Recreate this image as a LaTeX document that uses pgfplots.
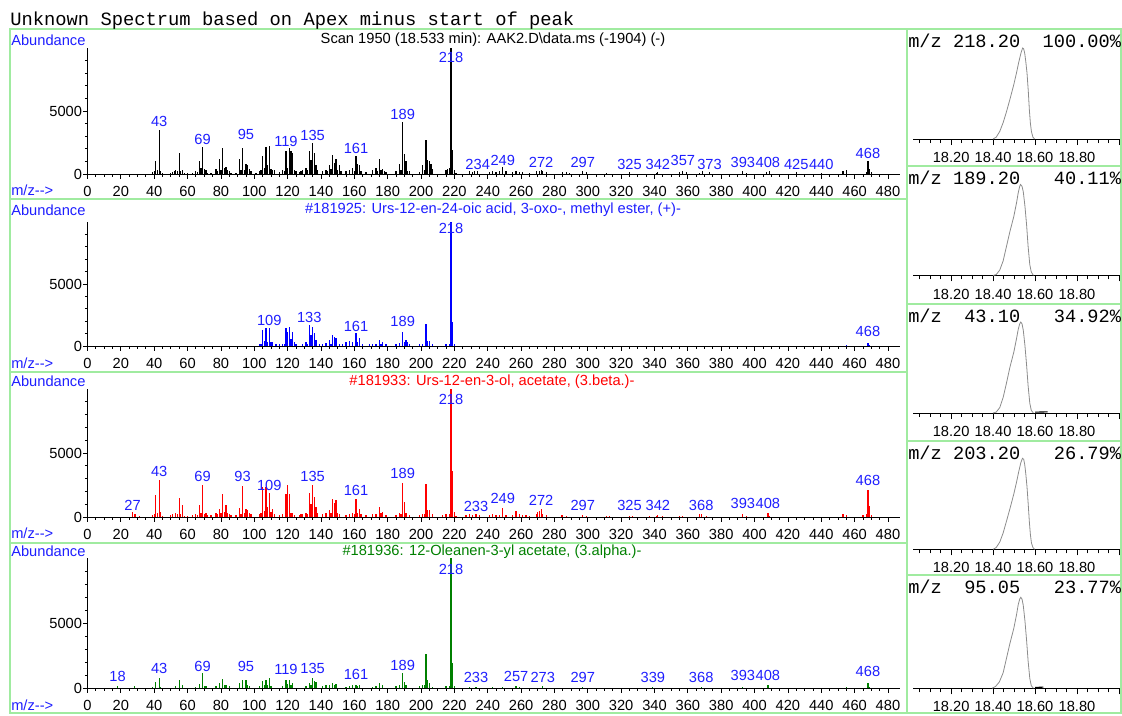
\documentclass[border=0pt]{standalone}
\usepackage{pgfplots}
\pgfplotsset{compat=1.18}
\usepackage{fontspec}
\setmainfont{Liberation Sans}
\newfontfamily\monofont{Liberation Mono}
\definecolor{lblue}{RGB}{30,30,255}
\definecolor{sred}{RGB}{255,0,0}
\definecolor{sgreen}{RGB}{0,128,0}
\definecolor{bgreen}{RGB}{160,235,160}
\definecolor{cgrey}{RGB}{140,140,140}
\pgfplotsset{
  spec/.style={scale only axis, width=609.1pt, xmin=0, xmax=487, ymin=0, ymax=10000,
    axis x line=bottom, axis y line=left, axis line style={-, line width=0.6pt},
    xtick={0,20,...,480}, minor x tick num=3,
    ytick={0,5000}, yticklabels={0,5000}, scaled y ticks=false,
    minor ytick={1000,2000,3000,4000,6000,7000,8000,9000},
    tick align=outside, major tick length=3.4pt, minor tick length=2pt,
    tick style={line width=0.6pt, black},
    /pgf/number format/assume math mode=true,
    tick label style={font=\fontsize{11}{13}\selectfont},
    xticklabel style={yshift=-2.5pt},
    yticklabel style={inner sep=0.5pt},
    clip=false},
  chrom/.style={scale only axis, width=155pt, height=68.25pt, xmin=18.02, xmax=19.005, ymin=0, ymax=1,
    axis x line=bottom, axis y line=none, axis line style={-, line width=0.6pt},
    xtick={18.2,18.4,18.6,18.8,19.0}, xticklabels={18.20,18.40,18.60,18.80,{}},
    minor xtick={18.05,18.1,18.15,18.25,18.3,18.35,18.45,18.5,18.55,18.65,18.7,18.75,18.85,18.9,18.95},
    tick align=outside, major tick length=4.5pt, minor tick length=3pt,
    tick style={line width=0.6pt, black},
    /pgf/number format/assume math mode=true,
    tick label style={font=\fontsize{11}{13}\selectfont},
    xticklabel style={yshift=-2pt},
    clip=false},
  lbl/.style={only marks, mark=none, nodes near coords, point meta=explicit symbolic,
    nodes near coords style={anchor=center, inner sep=0pt, text=lblue, font=\fontsize{11}{13}\selectfont}},
  stick/.style={ycomb, mark=none, line width=0.9pt},
  peak/.style={cgrey, line width=0.6pt, mark=none}
}
\begin{document}
\begin{tikzpicture}
\path[use as bounding box] (0,0) rectangle (841.5pt,-536.25pt);
% ---------------- Panel 1 ----------------
\begin{axis}[spec, height=94.5pt, at={(65.625pt,-130.5pt)}, anchor=south west]
\addplot[stick, black] table {
39 150
40 200
41 1060
42 350
43 3490
44 200
45 80
50 100
51 150
52 200
53 350
54 250
55 1700
56 250
57 350
58 100
60 80
63 80
65 200
66 150
67 1060
68 500
69 2120
70 400
71 350
72 100
74 100
77 420
78 200
79 1170
80 350
81 2040
82 500
83 550
84 300
85 250
86 100
89 100
91 1170
92 350
93 2050
94 300
95 800
96 750
97 400
98 200
101 100
103 200
104 300
105 1450
106 500
107 2120
108 700
109 2230
110 400
111 350
112 300
115 150
117 300
118 200
119 1830
120 500
121 2090
122 1800
123 1700
124 300
125 200
127 150
128 200
129 300
131 500
132 300
133 1830
134 1100
135 2430
136 1700
137 700
138 300
141 250
143 300
144 200
145 700
146 400
147 1530
148 900
149 1160
150 300
151 700
152 200
155 200
157 300
159 500
160 200
161 1450
162 800
163 750
164 200
167 150
171 300
173 500
174 200
175 1160
176 300
177 400
178 200
179 150
185 200
187 800
188 300
189 4100
190 1560
191 1000
192 250
193 200
199 150
201 700
202 300
203 2720
204 1100
205 1050
206 800
207 400
215 300
216 400
217 500
218 9990
219 1900
220 300
221 100
229 200
231 150
232 200
234 250
241 150
243 200
245 150
247 200
249 550
251 200
255 150
257 250
259 150
261 150
265 100
269 200
271 250
272 300
273 250
275 150
285 150
287 150
289 100
297 250
299 150
311 100
325 150
341 100
342 150
355 150
357 250
359 150
367 100
369 200
373 150
393 250
395 100
407 150
409 200
425 150
440 80
453 200
455 300
467 150
468 1030
469 400
470 150
};
\addplot[lbl] table[x=x, y=y, meta=l] {
x y l
43 4206 43
69 2754 69
95 3119 95
119 2563 119
135 3095 135
161 2040 161
189 4762 189
218 9286 218
234 794 234
249 1111 249
272 952 272
297 952 297
325 794 325
342 794 342
357 1111 357
373 794 373
393 952 393
408 952 408
425 794 425
440 794 440
468 1667 468
};
\end{axis}
% ---------------- Panel 2 ----------------
\begin{axis}[spec, height=93pt, at={(65.625pt,-259.5pt)}, anchor=south west]
\addplot[stick, blue] table {
103 200
104 150
105 1300
106 400
107 1490
108 300
109 1490
110 300
111 350
113 150
115 200
117 200
118 150
119 1490
120 1160
121 1570
122 600
123 1160
124 350
125 150
129 150
131 350
132 200
133 1700
134 900
135 1570
136 1030
137 490
139 150
141 200
143 250
145 490
146 200
147 900
148 750
149 680
151 150
153 150
155 350
157 430
159 350
161 1030
162 300
163 620
165 150
169 150
171 200
173 200
175 490
176 200
177 350
179 200
185 150
187 270
189 1160
190 300
191 490
192 350
193 200
199 150
201 200
203 1780
204 400
205 430
207 150
215 150
217 200
218 9990
219 1970
220 200
455 60
468 250
469 100
};
\addplot[lbl] table[x=x, y=y, meta=l] {
x y l
109 2097 109
133 2282 133
161 1556 161
189 1960 189
218 9492 218
468 1210 468
};
\end{axis}
% ---------------- Panel 3 ----------------
\begin{axis}[spec, height=96pt, at={(65.625pt,-387.75pt)}, anchor=south west]
\addplot[stick, sred] table {
27 400
28 260
29 250
31 100
39 150
40 200
41 1710
42 300
43 2900
44 400
45 100
50 150
51 200
53 350
54 200
55 1500
56 250
57 970
58 100
60 100
63 150
65 200
66 150
67 970
68 300
69 2500
70 250
71 320
72 150
74 150
77 300
78 200
79 660
80 300
81 1790
82 400
83 970
84 300
85 250
86 150
89 150
91 740
92 250
93 2420
94 300
95 660
96 530
97 300
98 200
103 250
104 300
105 2320
106 500
107 2320
108 790
109 1900
110 400
111 660
112 200
115 150
117 200
119 1790
120 2500
121 1790
122 300
123 300
124 150
127 150
128 200
129 250
131 300
132 250
133 1900
134 1050
135 2500
136 1580
137 790
138 300
141 200
143 300
145 580
146 300
147 1370
148 1100
149 1320
150 300
151 200
155 150
157 200
159 300
160 200
161 1370
162 300
163 660
164 200
167 150
171 200
173 250
175 790
176 350
177 400
179 150
185 150
187 300
188 200
189 2680
190 1180
191 300
193 150
199 150
201 250
202 200
203 2580
204 580
205 580
207 200
213 150
215 200
217 250
218 9990
219 3600
220 400
221 100
227 150
229 200
231 150
233 260
235 150
241 150
243 200
245 150
247 150
249 700
251 150
255 150
257 450
259 200
261 150
263 150
265 100
269 200
270 400
271 450
272 600
273 250
275 150
284 150
285 150
287 100
297 150
299 100
311 100
313 100
325 100
327 100
337 100
341 100
342 150
345 100
355 100
357 100
367 200
368 200
371 100
393 250
395 100
408 300
409 100
453 200
455 150
465 150
467 200
468 2080
469 830
470 150
};
\addplot[lbl] table[x=x, y=y, meta=l] {
x y l
27 938 27
43 3539 43
69 3203 69
93 3203 93
109 2500 109
135 3203 135
161 2055 161
189 3414 189
218 9195 218
233 859 233
249 1461 249
272 1328 272
297 938 297
325 938 325
342 938 342
368 938 368
393 1070 393
408 1070 408
468 2891 468
};
\end{axis}
% ---------------- Panel 4 ----------------
\begin{axis}[spec, height=97.5pt, at={(65.625pt,-516pt)}, anchor=south west]
\addplot[stick, sgreen] table {
18 130
28 130
39 80
41 440
43 770
44 100
53 150
55 640
57 200
65 100
67 330
69 1150
70 150
71 150
77 150
79 380
81 690
82 200
83 260
85 150
91 380
93 590
95 590
96 200
97 150
103 150
105 560
106 200
107 640
108 250
109 770
110 150
117 150
119 640
120 300
121 590
122 200
123 380
131 150
133 380
134 250
135 770
136 560
137 440
141 150
143 200
145 250
147 380
148 200
149 330
155 100
157 150
159 200
161 260
162 150
163 200
171 100
173 150
175 380
177 200
185 150
187 250
189 1150
190 440
191 250
199 150
201 250
202 200
203 2640
204 640
205 380
207 100
215 150
217 150
218 9990
219 1920
220 150
229 80
233 80
243 100
249 80
257 130
259 80
273 120
297 60
339 60
368 60
393 80
408 200
455 60
468 360
469 100
};
\addplot[lbl] table[x=x, y=y, meta=l] {
x y l
18 869 18
43 1515 43
69 1692 69
95 1638 95
119 1462 119
135 1515 135
161 1077 161
189 1769 189
218 9131 218
233 823 233
257 923 257
273 823 273
297 823 297
339 823 339
368 823 368
393 1000 393
408 1000 408
468 1254 468
};
\end{axis}
% ---------------- Right chromatograms ----------------
\begin{axis}[chrom, at={(685pt,-104.25pt)}, anchor=south west]
\addplot[peak] table {
18.400 0
18.415 0.02
18.432 0.084
18.448 0.18
18.464 0.30
18.482 0.45
18.499 0.60
18.512 0.73
18.522 0.84
18.533 0.945
18.541 1.0
18.546 0.99
18.551 0.94
18.556 0.85
18.562 0.72
18.568 0.52
18.573 0.32
18.578 0.17
18.583 0.08
18.590 0.02
18.598 0
};
\end{axis}
\begin{axis}[chrom, at={(685pt,-206.6pt)}, anchor=south west]
\addplot[peak] table {
18.400 0
18.415 0.01
18.432 0.06
18.448 0.16
18.464 0.32
18.480 0.48
18.499 0.65
18.512 0.80
18.520 0.91
18.527 0.98
18.531 1.0
18.538 0.98
18.544 0.92
18.552 0.76
18.560 0.55
18.567 0.32
18.575 0.12
18.582 0.04
18.592 0
};
\end{axis}
\begin{axis}[chrom, at={(685pt,-309.75pt)}, anchor=south west]
\addplot[peak] table {
18.400 0
18.415 0.01
18.432 0.06
18.448 0.17
18.464 0.33
18.480 0.50
18.499 0.67
18.512 0.82
18.520 0.92
18.527 0.98
18.532 1.0
18.538 0.98
18.544 0.91
18.552 0.74
18.560 0.52
18.567 0.30
18.575 0.11
18.582 0.03
18.592 0
};
\addplot[black, line width=0.8pt, mark=none] table {
18.60 0.01
18.66 0.012
};
\end{axis}
\begin{axis}[chrom, at={(685pt,-412pt)}, anchor=south west]
\addplot[peak] table {
18.400 0
18.415 0.02
18.432 0.08
18.448 0.18
18.464 0.31
18.482 0.46
18.499 0.61
18.512 0.74
18.522 0.85
18.532 0.95
18.540 1.0
18.546 0.99
18.551 0.93
18.556 0.83
18.562 0.68
18.568 0.48
18.573 0.30
18.578 0.16
18.583 0.07
18.590 0.02
18.598 0
};
\end{axis}
\begin{axis}[chrom, at={(685pt,-516.2pt)}, anchor=south west]
\addplot[peak] table {
18.395 0
18.412 0.02
18.430 0.07
18.448 0.17
18.464 0.33
18.480 0.49
18.499 0.66
18.512 0.81
18.520 0.92
18.527 0.98
18.532 1.0
18.538 0.98
18.544 0.91
18.552 0.74
18.560 0.52
18.567 0.30
18.575 0.11
18.582 0.03
18.592 0
};
\addplot[black, line width=0.8pt, mark=none] table {
18.60 0.01
18.64 0.012
};
\end{axis}
% ---------------- Decorations (pixel units) ----------------
\begin{scope}[x=0.75pt,y=-0.75pt]
\begin{scope}[bgreen, line width=1.1pt]
\draw (10,29) rectangle (907,199);
\draw (10,199) rectangle (907,372);
\draw (10,372) rectangle (907,543);
\draw (10,543) rectangle (907,713);
\draw (907,29) rectangle (1121,166);
\draw (907,166) rectangle (1121,304);
\draw (907,304) rectangle (1121,441);
\draw (907,441) rectangle (1121,575);
\draw (907,575) rectangle (1121,713);
\end{scope}
\node[anchor=west, inner sep=0pt, font=\monofont\fontsize{14.1}{16}\selectfont] at (10,21) {Unknown Spectrum based on Apex minus start of peak};
\begin{scope}[every node/.style={inner sep=0pt, font=\fontsize{11}{13}\selectfont}]
\node[anchor=west, text=lblue] at (11,40) {Abundance};
\node[anchor=west, text=lblue] at (11,210) {Abundance};
\node[anchor=west, text=lblue] at (11,381.7) {Abundance};
\node[anchor=west, text=lblue] at (11,551.7) {Abundance};
\node[anchor=west, text=lblue] at (11,190) {m/z-{}->};
\node[anchor=west, text=lblue] at (11,363) {m/z-{}->};
\node[anchor=west, text=lblue] at (11,533) {m/z-{}->};
\node[anchor=west, text=lblue] at (11,705) {m/z-{}->};
\node[text=black] at (493,40) {Scan 1950 (18.533 min): AAK2.D\textbackslash data.ms (-1904) (-)};
\node[text=lblue] at (493,210) {\#181925: Urs-12-en-24-oic acid, 3-oxo-, methyl ester, (+)-};
\node[text=sred] at (492,381.7) {\#181933: Urs-12-en-3-ol, acetate, (3.beta.)-};
\node[text=sgreen] at (492,551.7) {\#181936: 12-Oleanen-3-yl acetate, (3.alpha.)-};
\end{scope}
\begin{scope}[every node/.style={anchor=west, inner sep=0pt, font=\monofont\fontsize{14}{16}\selectfont}]
\node at (908,41) {m/z~218.20~~100.00\%};
\node at (908,178) {m/z~189.20~~~40.11\%};
\node at (908,316) {m/z~~43.10~~~34.92\%};
\node at (908,453) {m/z~203.20~~~26.79\%};
\node at (908,587) {m/z~~95.05~~~23.77\%};
\end{scope}
\end{scope}
\end{tikzpicture}
\end{document}
